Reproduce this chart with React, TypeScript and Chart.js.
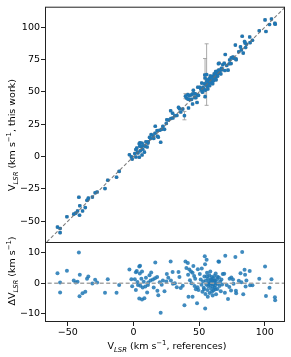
import React, { useEffect, useRef } from 'react';
import { Chart, registerables } from 'chart.js';
Chart.register(...registerables);

// V_LSR from references (x) and from this work (y), km/s
const vRef = [
  -57.9, -55.9, -55.9, -50.7, -45.5, -44.0, -42.6, -41.6, -40.9, -41.1,
  -38.8, -36.7, -35.4, -34.4, -31.3, -29.2, -27.7, -21.7, -19.6, -12.9,
  -10.9, -3.1, -1.6, -1.0, 1.0, 1.8, 4.4, 3.4, 4.4, 5.0,
  2.5, 4.8, 6.5, 6.0, 7.8, 9.5, 11.2, 3.0, 5.2, 7.0,
  9.0, 11.0, 13.0, 6.5, 8.3, 12.2, 13.5, 14.8, 16.4, 16.6,
  18.0, 18.2, 18.9, 20.7, 20.0, 21.5, 22.4, 25.4, 26.5, 25.0,
  28.3, 28.5, 29.8, 30.0, 31.5, 33.0, 34.3, 35.0, 36.0, 37.5,
  38.8, 39.6, 41.4, 40.3, 42.5, 43.8, 41.6, 45.0, 46.2, 43.0,
  41.9, 45.0, 48.4, 46.5, 48.8, 47.5, 49.5, 44.2, 47.0, 49.0,
  45.6, 23.6, 10.4, 15.4, 1.8, 54.3, 55.7, 54.5, 54.6, 50.5,
  51.2, 51.8, 52.5, 52.0, 53.0, 53.5, 54.0, 54.8, 55.2, 55.5,
  56.0, 56.3, 56.8, 57.0, 57.4, 57.8, 58.0, 58.3, 58.6, 59.0,
  59.2, 59.5, 59.8, 60.0, 60.2, 60.5, 60.8, 61.0, 61.2, 61.5,
  61.8, 62.0, 62.3, 62.6, 62.9, 63.2, 63.6, 64.0, 64.3, 64.7,
  65.0, 65.2, 65.5, 66.0, 66.5, 67.0, 67.5, 68.0, 58.5, 60.3,
  56.6, 62.4, 59.6, 57.6, 61.6, 63.9, 55.9, 53.8, 69.1, 69.6,
  69.9, 72.0, 73.2, 74.5, 75.8, 74.3, 78.0, 77.6, 76.2, 78.2,
  80.2, 81.5, 82.2, 82.8, 83.6, 84.6, 85.0, 85.4, 86.0, 88.5,
  88.8, 90.6, 95.8, 100.2, 100.9, 103.6, 105.1, 107.7, 107.9, 71.0,
  73.0,
];
const vThis = [
  -54.6, -55.7, -58.9, -46.6, -44.6, -43.8, -42.1, -31.5, -38.1, -45.4,
  -42.1, -39.5, -33.9, -32.2, -31.4, -28.1, -27.5, -24.8, -18.3, -16.0,
  -11.5, 1.4, -0.3, -2.0, 2.3, 5.4, 9.9, 2.8, -0.6, 10.7,
  6.5, 8.0, 10.3, 7.5, 8.3, 11.3, 11.4, 3.4, 4.4, 5.6,
  7.9, 10.4, 13.9, 1.2, 3.4, 14.8, 17.0, 16.0, 18.0, 23.4,
  20.0, 15.7, 15.0, 11.0, 20.3, 21.0, 23.3, 28.4, 28.3, 25.6,
  35.4, 29.4, 33.5, 29.8, 31.5, 31.7, 38.0, 37.0, 34.4, 36.7,
  31.6, 46.7, 48.0, 45.3, 47.0, 47.6, 44.4, 48.4, 48.6, 44.0,
  37.5, 40.6, 41.8, 45.6, 47.5, 45.5, 47.3, 44.2, 48.5, 53.6,
  51.2, 21.0, 7.4, 14.0, -0.4, 63.1, 63.4, 60.7, 46.3, 53.5,
  52.4, 51.3, 49.7, 56.8, 53.6, 52.0, 56.2, 51.3, 56.1, 55.1,
  59.4, 54.1, 58.3, 56.0, 57.7, 60.4, 54.8, 57.7, 59.6, 57.2,
  59.2, 61.5, 57.0, 60.7, 59.1, 62.1, 60.5, 58.7, 61.6, 63.9,
  60.3, 62.9, 61.6, 65.8, 59.3, 63.3, 64.9, 62.1, 64.1, 71.8,
  66.9, 72.2, 64.6, 66.6, 63.9, 68.2, 67.1, 71.0, 62.3, 56.3,
  52.2, 60.4, 60.8, 57.5, 62.4, 66.0, 58.2, 51.8, 72.2, 66.5,
  78.9, 66.8, 74.7, 76.4, 77.0, 71.9, 75.5, 86.2, 76.0, 74.9,
  81.0, 84.8, 82.5, 93.0, 80.0, 89.0, 87.8, 84.3, 86.9, 92.5,
  88.1, 89.9, 97.3, 105.7, 96.7, 102.1, 106.4, 103.1, 102.3, 70.4,
  71.8,
];

// points with large uncertainties in this work
const bigErrRef = [55.7, 54.5, 38.8, 39.6];
const bigErrThis = [63.4, 60.7, 31.6, 46.7];
const bigErrSize = [23.8, 15.1, 3.2, 2.0];
const TYPICAL_ERR = 0.9;

const X_TICKS = [-50, 0, 50, 100];
const TOP_Y_TICKS = [-50, -25, 0, 25, 50, 75, 100];
const BOT_Y_TICKS = [-10, 0, 10];

const FONT = '"DejaVu Sans"';
const FS = 9.5;

type Seg = { t: string; k?: 'sub' | 'sup' };

function drawRich(ctx: CanvasRenderingContext2D, segs: Seg[], cx: number, cy: number, rot: boolean) {
  ctx.save();
  ctx.translate(cx, cy);
  if (rot) ctx.rotate(-Math.PI / 2);
  const fontFor = (k?: string) =>
    k === 'sub' ? `italic ${FS * 0.72}px ${FONT}` : k === 'sup' ? `${FS * 0.72}px ${FONT}` : `${FS}px ${FONT}`;
  let total = 0;
  const widths = segs.map((s) => {
    ctx.font = fontFor(s.k);
    const w = ctx.measureText(s.t).width;
    total += w;
    return w;
  });
  let x = -total / 2;
  ctx.textBaseline = 'alphabetic';
  ctx.textAlign = 'left';
  ctx.fillStyle = '#000';
  const base = FS * 0.36;
  segs.forEach((s, i) => {
    ctx.font = fontFor(s.k);
    const dy = s.k === 'sub' ? FS * 0.28 : s.k === 'sup' ? -FS * 0.42 : 0;
    ctx.fillText(s.t, x, base + dy);
    x += widths[i];
  });
  ctx.restore();
}

const fmt = (v: number) => (v < 0 ? '\u2212' + Math.abs(v) : String(v));

const frame = (ctx: CanvasRenderingContext2D, a: any) => {
  ctx.save();
  ctx.strokeStyle = '#222';
  ctx.lineWidth = 1;
  ctx.strokeRect(a.left + 0.5, a.top + 0.5, a.right - a.left - 1, a.bottom - a.top - 1);
  ctx.restore();
};

export default function App() {
  const topRef = useRef<HTMLCanvasElement>(null);
  const botRef = useRef<HTMLCanvasElement>(null);

  useEffect(() => {
    document.body.style.margin = '0';
    const X_MIN = -67.4;
    const X_MAX = 115.4;
    const residual = vRef.map((r, i) => ({ x: r, y: +(vThis[i] - r).toFixed(2) }));

    const yAxisBase = (ticks: number[], min: number, max: number) => ({
      type: 'linear' as const,
      min,
      max,
      afterFit: (s: any) => {
        s.width = 45;
      },
      afterBuildTicks: (s: any) => {
        s.ticks = ticks.map((v) => ({ value: v }));
      },
      ticks: { callback: (v: any) => fmt(Number(v)), padding: 1, color: '#000', font: { family: FONT, size: FS } },
      grid: { display: true, drawOnChartArea: false, drawTicks: true, tickLength: 4, color: '#222' },
      border: { display: false },
    });

    const topPlugin = {
      id: 'topDeco',
      beforeDatasetsDraw(chart: any) {
        const ctx = chart.ctx;
        const xs = chart.scales.x;
        const ys = chart.scales.y;
        const a = chart.chartArea;
        ctx.save();
        ctx.beginPath();
        ctx.rect(a.left, a.top, a.right - a.left, a.bottom - a.top);
        ctx.clip();
        ctx.strokeStyle = 'rgba(140,150,160,0.9)';
        ctx.lineWidth = 0.9;
        vRef.forEach((r, i) => {
          const px = xs.getPixelForValue(r);
          const py = ys.getPixelForValue(vThis[i]);
          const x0 = xs.getPixelForValue(r - TYPICAL_ERR);
          const x1 = xs.getPixelForValue(r + TYPICAL_ERR);
          const y0 = ys.getPixelForValue(vThis[i] - TYPICAL_ERR);
          const y1 = ys.getPixelForValue(vThis[i] + TYPICAL_ERR);
          ctx.beginPath();
          ctx.moveTo(x0, py); ctx.lineTo(x1, py);
          ctx.moveTo(px, y0); ctx.lineTo(px, y1);
          ctx.moveTo(x0, py - 1.4); ctx.lineTo(x0, py + 1.4);
          ctx.moveTo(x1, py - 1.4); ctx.lineTo(x1, py + 1.4);
          ctx.moveTo(px - 1.4, y0); ctx.lineTo(px + 1.4, y0);
          ctx.moveTo(px - 1.4, y1); ctx.lineTo(px + 1.4, y1);
          ctx.stroke();
        });
        ctx.strokeStyle = 'rgba(160,160,160,0.9)';
        ctx.lineWidth = 1;
        bigErrRef.forEach((r, i) => {
          const px = xs.getPixelForValue(r);
          const y0 = ys.getPixelForValue(bigErrThis[i] - bigErrSize[i]);
          const y1 = ys.getPixelForValue(bigErrThis[i] + bigErrSize[i]);
          ctx.beginPath();
          ctx.moveTo(px, y0); ctx.lineTo(px, y1);
          ctx.moveTo(px - 2, y0); ctx.lineTo(px + 2, y0);
          ctx.moveTo(px - 2, y1); ctx.lineTo(px + 2, y1);
          ctx.stroke();
        });
        ctx.restore();
      },
      afterDraw(chart: any) {
        frame(chart.ctx, chart.chartArea);
        drawRich(chart.ctx, [{ t: 'V' }, { t: 'LSR', k: 'sub' }, { t: ' (km s' }, { t: '\u22121', k: 'sup' }, { t: ', this work)' }], 12, 135, true);
      },
    };

    const botPlugin = {
      id: 'botDeco',
      afterDraw(chart: any) {
        frame(chart.ctx, chart.chartArea);
        drawRich(chart.ctx, [{ t: '\u0394V' }, { t: 'LSR', k: 'sub' }, { t: ' (km s' }, { t: '\u22121', k: 'sup' }, { t: ')' }], 12, 271, true);
        drawRich(chart.ctx, [{ t: 'V' }, { t: 'LSR', k: 'sub' }, { t: ' (km s' }, { t: '\u22121', k: 'sup' }, { t: ', references)' }], 167, 346, false);
      },
    };

    const c1 = new Chart(topRef.current!, {
      type: 'scatter',
      data: {
        datasets: [
          {
            data: [{ x: -100, y: -100 }, { x: 140, y: 140 }],
            showLine: true,
            borderColor: 'rgba(110,110,110,0.9)',
            borderWidth: 1.1,
            borderDash: [3.5, 2.2],
            pointRadius: 0,
          } as any,
          {
            data: vRef.map((r, i) => ({ x: r, y: vThis[i] })),
            backgroundColor: '#1f77b4',
            borderWidth: 0,
            pointRadius: 1.8,
          },
        ],
      },
      options: {
        responsive: false,
        animation: false,
        devicePixelRatio: 1,
        layout: { padding: { top: 5, right: 6, bottom: 114, left: 0 } },
        plugins: { legend: { display: false }, tooltip: { enabled: false } },
        scales: {
          x: { type: 'linear', min: X_MIN, max: X_MAX, display: false },
          y: yAxisBase(TOP_Y_TICKS, -66.9, 115.9) as any,
        },
      },
      plugins: [topPlugin],
    });

    const c2 = new Chart(botRef.current!, {
      type: 'scatter',
      data: {
        datasets: [
          {
            data: [{ x: -100, y: 0 }, { x: 140, y: 0 }],
            showLine: true,
            borderColor: 'rgba(160,160,160,0.95)',
            borderWidth: 1.6,
            borderDash: [4, 2.5],
            pointRadius: 0,
          } as any,
          {
            data: residual,
            backgroundColor: 'rgba(31,119,180,0.85)',
            borderWidth: 0,
            pointRadius: 2,
          },
        ],
      },
      options: {
        responsive: false,
        animation: false,
        devicePixelRatio: 1,
        layout: { padding: { top: 242, right: 6, bottom: 0, left: 0 } },
        plugins: { legend: { display: false }, tooltip: { enabled: false } },
        scales: {
          x: {
            type: 'linear',
            min: X_MIN,
            max: X_MAX,
            afterFit: (s: any) => {
              s.height = 35;
            },
            afterBuildTicks: (s: any) => {
              s.ticks = X_TICKS.map((v) => ({ value: v }));
            },
            ticks: { callback: (v: any) => fmt(Number(v)), padding: 1, maxRotation: 0, color: '#000', font: { family: FONT, size: FS } },
            grid: { display: true, drawOnChartArea: false, drawTicks: true, tickLength: 4, color: '#222' },
            border: { display: false },
          },
          y: yAxisBase(BOT_Y_TICKS, -12.7, 13.5) as any,
        },
      },
      plugins: [botPlugin],
    });

    return () => {
      c1.destroy();
      c2.destroy();
    };
  }, []);

  return (
    <div style={{ position: 'relative', width: 291, height: 357 }}>
      <canvas ref={topRef} width={291} height={357} style={{ position: 'absolute', left: 0, top: 0 }} />
      <canvas ref={botRef} width={291} height={357} style={{ position: 'absolute', left: 0, top: 0 }} />
    </div>
  );
}
